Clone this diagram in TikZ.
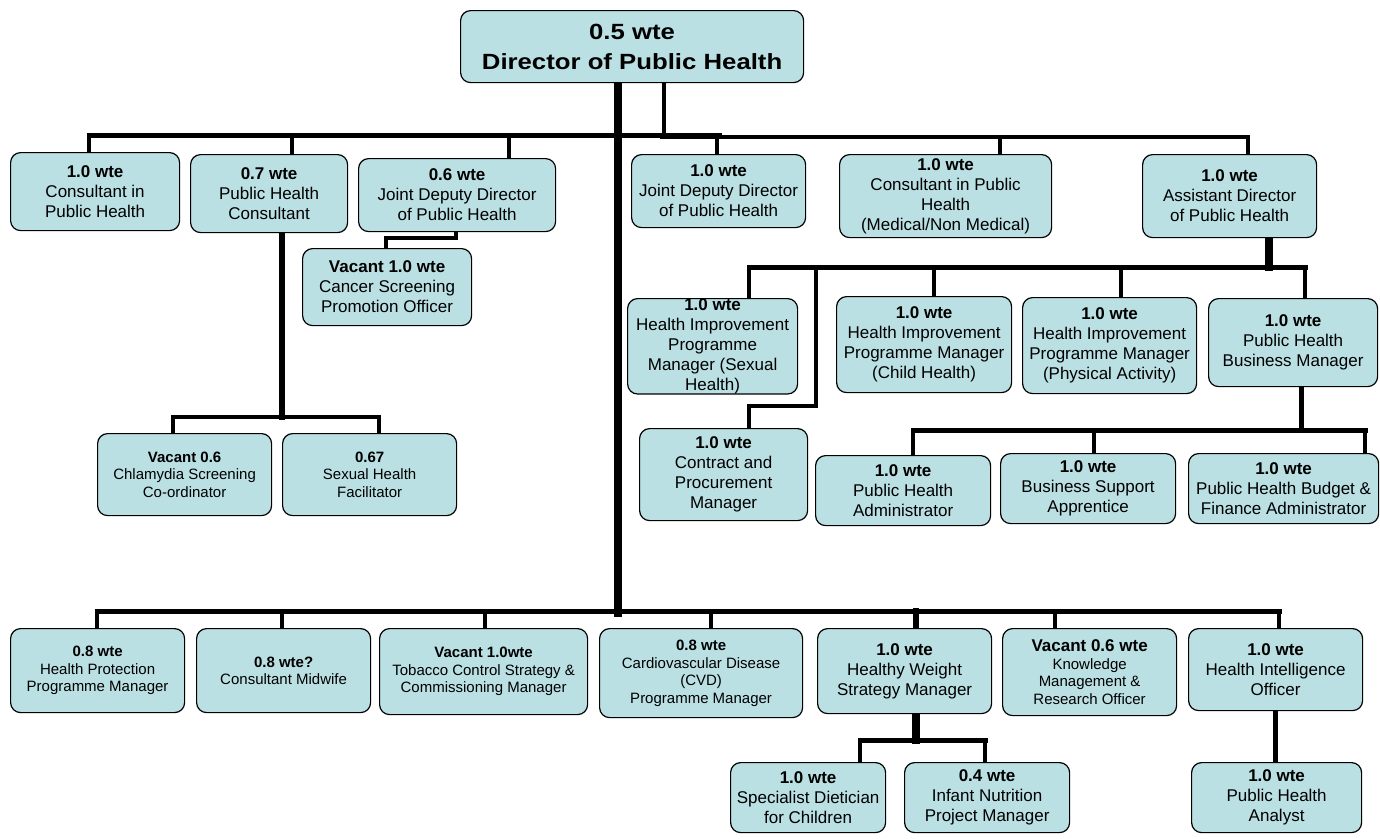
\documentclass[tikz,border=0pt]{standalone}
\usepackage{fontspec}
\usepackage{graphicx}
\setmainfont{Liberation Sans}
\definecolor{boxfill}{RGB}{186,224,227}
\pgfdeclarelayer{bg}
\pgfsetlayers{bg,main}
\begin{document}
\begin{tikzpicture}[x=1pt,y=-1pt,
  box/.style={draw=black, line width=1.2pt, fill=boxfill, rounded corners=10pt,
    anchor=north west, align=center, inner xsep=2pt, inner ysep=0pt,
    font=\fontsize{17}{20}\selectfont},
  sbox/.style={box, font=\fontsize{15}{17.5}\selectfont},
  wh/.style n args={2}{minimum width=#1pt, minimum height=#2pt},
  conn/.style={line width=4pt, line cap=rect},
  bar/.style={line width=5pt, line cap=rect},
  trunk/.style={line width=8pt, line cap=rect}]
\useasboundingbox (0,0) rectangle (1380,838);

% ---------- boxes ----------
\node[box, wh={343}{72}, font=\fontsize{22}{30}\selectfont\bfseries] (DIR) at (460,10)
  {\scalebox{1.17}[1]{0.5 wte}\\\scalebox{1.17}[1]{Director of Public Health}};

\node[box, wh={169}{78}] (A1) at (10,152) {\textbf{1.0 wte}\\Consultant in\\Public Health};
\node[box, wh={157}{78}] (A2) at (190,154) {\textbf{0.7 wte}\\Public Health\\Consultant};
\node[box, wh={197}{73}] (A3) at (358,158) {\textbf{0.6 wte}\\Joint Deputy Director\\of Public Health};
\node[box, wh={169}{77}] (C) at (302,248) {\textbf{Vacant 1.0 wte}\\Cancer Screening\\Promotion Officer};
\node[sbox, wh={174}{82}] (K1) at (97,433) {\textbf{Vacant 0.6}\\Chlamydia Screening\\Co-ordinator};
\node[sbox, wh={174}{82}] (K2) at (282,433) {\textbf{0.67}\\Sexual Health\\Facilitator};

\node[box, wh={174}{73}] (B1) at (631,154) {\textbf{1.0 wte}\\Joint Deputy Director\\of Public Health};
\node[box, wh={212}{83}] (B2) at (839,154) {\textbf{1.0 wte}\\Consultant in Public\\Health\\(Medical/Non Medical)};
\node[box, wh={174}{83}] (B3) at (1142,154) {\textbf{1.0 wte}\\Assistant Director\\of Public Health};

\node[box, wh={170}{94}] (D1) at (627,298) {\textbf{1.0 wte}\\Health Improvement\\Programme\\Manager (Sexual\\Health)};
\node[box, wh={175}{96}] (D2) at (836,296) {\textbf{1.0 wte}\\Health Improvement\\Programme Manager\\(Child Health)};
\node[box, wh={174}{96}] (D3) at (1022,297) {\textbf{1.0 wte}\\Health Improvement\\Programme Manager\\(Physical Activity)};
\node[box, wh={169}{88}] (D4) at (1208,298) {\textbf{1.0 wte}\\Public Health\\Business Manager};

\node[box, wh={168}{92}] (E) at (639,428) {\textbf{1.0 wte}\\Contract and\\Procurement\\Manager};
\node[box, wh={175}{70}] (F1) at (815,455) {\textbf{1.0 wte}\\Public Health\\Administrator};
\node[box, wh={175}{70}] (F2) at (1000,453) {\textbf{1.0 wte}\\Business Support\\Apprentice};
\node[box, wh={190}{70}] (F3) at (1188,453) {\textbf{1.0 wte}\\Public Health Budget \&\\Finance Administrator};

\node[sbox, wh={174}{84}] (G1) at (10,628) {\textbf{0.8 wte}\\Health Protection\\Programme Manager};
\node[sbox, wh={174}{84}] (G2) at (196,628) {\textbf{0.8 wte?}\\Consultant Midwife};
\node[sbox, wh={208}{86}] (G3) at (379,628) {\textbf{Vacant 1.0wte}\\Tobacco Control Strategy \&\\Commissioning Manager};
\node[sbox, wh={203}{89}] (G4) at (599,628) {\textbf{0.8 wte}\\Cardiovascular Disease\\(CVD)\\Programme Manager};
\node[box, wh={174}{85}] (G5) at (817,628) {\textbf{1.0 wte}\\Healthy Weight\\Strategy Manager};
\node[sbox, wh={174}{87}] (G6) at (1002,628) {{\fontsize{17}{20}\selectfont\bfseries Vacant 0.6 wte}\\Knowledge\\Management \&\\Research Officer};
\node[box, wh={174}{82}] (G7) at (1188,628) {\textbf{1.0 wte}\\Health Intelligence\\Officer};

\node[box, wh={155}{70}] (H1) at (730,762) {\textbf{1.0 wte}\\Specialist Dietician\\for Children};
\node[box, wh={165}{70}] (H2) at (904,762) {\textbf{0.4 wte}\\Infant Nutrition\\Project Manager};
\node[box, wh={170}{70}] (H3) at (1191,762) {\textbf{1.0 wte}\\Public Health\\Analyst};

% ---------- junction coordinates ----------
\coordinate (jT) at (618,613);
\coordinate (jR) at (664,137);
\coordinate (tl1) at (89,135);  \coordinate (tl2) at (719,135);
\coordinate (tr1) at (662,137); \coordinate (tr2) at (1248,137);
\coordinate (dA2) at (292,135); \coordinate (dA3) at (509,135);
\coordinate (dB1) at (717,137); \coordinate (dB2) at (1000,137);
\coordinate (cA3) at (456,238); \coordinate (cC) at (386,238);
\coordinate (kj) at (282,417); \coordinate (k1) at (173,417); \coordinate (k2) at (379,417);
\coordinate (dj) at (1269,267); \coordinate (d1) at (749,267); \coordinate (d2) at (934,267);
\coordinate (d3) at (1121,267); \coordinate (d4) at (1305,267);
\coordinate (e1) at (816,267); \coordinate (e2) at (816,406); \coordinate (e3) at (749,406);
\coordinate (fj) at (1301,430); \coordinate (f1) at (913,430); \coordinate (f2) at (1094,430);
\coordinate (f3) at (1365,430);
\coordinate (g1) at (97,611); \coordinate (g2) at (282,611); \coordinate (g3) at (485,611);
\coordinate (g4) at (711,611); \coordinate (g5) at (916,611); \coordinate (g6) at (1055,611);
\coordinate (g7) at (1279,611);
\coordinate (hj) at (916,740); \coordinate (h1) at (860,740); \coordinate (h2) at (985,740);
\coordinate (h3) at (1275,740);

% ---------- connectors ----------
\begin{pgfonlayer}{bg}
\draw[trunk] (DIR.south -| jT) -- (jT);
\draw[conn] (DIR.south -| jR) -- (jR);
\draw[bar] (tl1) -- (tl2);
\draw[conn] (tr1) -- (tr2);
\draw[conn] (tl1) -- (A1.north -| tl1);
\draw[conn] (dA2) -- (A2.north -| dA2);
\draw[conn] (dA3) -- (A3.north -| dA3);
\draw[conn] (dB1) -- (B1.north -| dB1);
\draw[conn] (dB2) -- (B2.north -| dB2);
\draw[conn] (tr2) -- (B3.north -| tr2);
\draw[conn, line join=miter] (A3.south -| cA3) -- (cA3) -- (cC) -- (C.north -| cC);
\draw[line width=6pt, line cap=rect] (A2.south -| kj) -- (kj);
\draw[conn] (k1) -- (k2);
\draw[conn] (k1) -- (K1.north -| k1);
\draw[conn] (k2) -- (K2.north -| k2);
\draw[trunk] (B3.south -| dj) -- (dj);
\draw[bar] (d1) -- (d4);
\draw[conn] (d1) -- (D1.north -| d1);
\draw[conn] (d2) -- (D2.north -| d2);
\draw[conn] (d3) -- (D3.north -| d3);
\draw[conn] (d4) -- (D4.north -| d4);
\draw[conn, line join=miter] (e1) -- (e2) -- (e3) -- (E.north -| e3);
\draw[bar] (D4.south -| fj) -- (fj);
\draw[bar] (f1) -- (f3);
\draw[conn] (f1) -- (F1.north -| f1);
\draw[conn] (f2) -- (F2.north -| f2);
\draw[conn] (f3) -- (F3.north -| f3);
\draw[bar] (g1) -- (g7);
\draw[conn] (g1) -- (G1.north -| g1);
\draw[conn] (g2) -- (G2.north -| g2);
\draw[conn] (g3) -- (G3.north -| g3);
\draw[conn] (g4) -- (G4.north -| g4);
\draw[line width=6pt, line cap=rect] (g5) -- (G5.north -| g5);
\draw[conn] (g6) -- (G6.north -| g6);
\draw[conn] (g7) -- (G7.north -| g7);
\draw[line width=7.5pt, line cap=rect] (G5.south -| hj) -- (hj);
\draw[bar] (h1) -- (h2);
\draw[conn] (h1) -- (H1.north -| h1);
\draw[conn] (h2) -- (H2.north -| h2);
\draw[bar] (G7.south -| h3) -- (H3.north -| h3);
\end{pgfonlayer}
\end{tikzpicture}
\end{document}
